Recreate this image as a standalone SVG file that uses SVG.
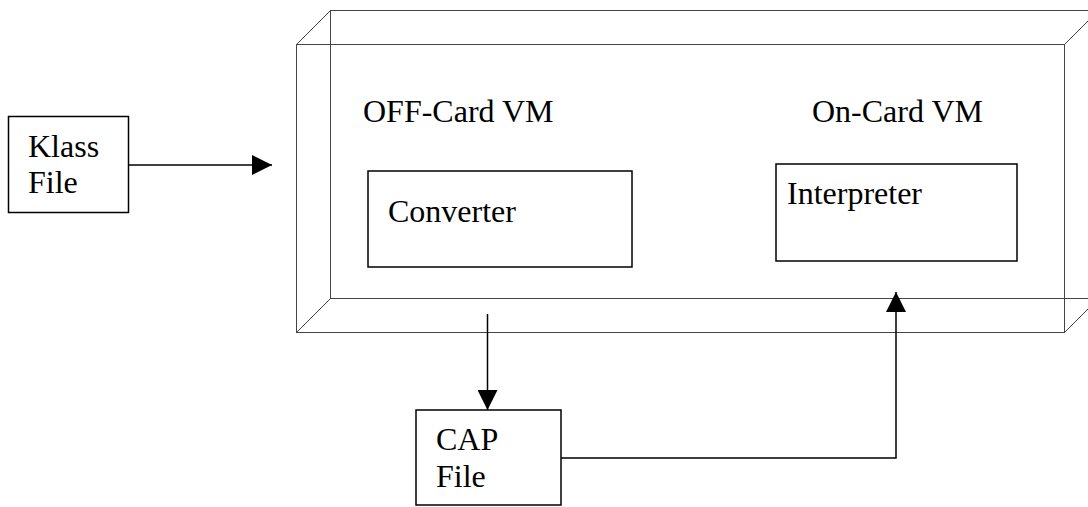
<svg xmlns="http://www.w3.org/2000/svg" width="1088" height="507" viewBox="0 0 1088 507">
  <style>
    .wire { fill: none; stroke: #444444; stroke-width: 1; }
    .box { fill: #ffffff; stroke: #000000; stroke-width: 1.5; }
    .conn { fill: none; stroke: #000000; stroke-width: 1.5; }
    .lbl { font-family: "Liberation Serif", "Times New Roman", serif; font-size: 32px; fill: #000000; }
  </style>
  <defs>
    <marker id="arrow" markerUnits="userSpaceOnUse" markerWidth="20" markerHeight="20" refX="20" refY="10" orient="auto" viewBox="0 0 20 20">
      <path d="M0,0 L20,10 L0,20 Z" fill="#000000"/>
    </marker>
  </defs>
  <rect width="1088" height="507" fill="#ffffff"/>

  <g id="vm-container">
    <rect class="wire" x="330.5" y="10.5" width="768" height="288"/>
    <rect class="wire" x="296.5" y="44.5" width="768" height="288"/>
    <line class="wire" x1="296.5" y1="44.5" x2="330.5" y2="10.5"/>
    <line class="wire" x1="1064.5" y1="44.5" x2="1098.5" y2="10.5"/>
    <line class="wire" x1="296.5" y1="332.5" x2="330.5" y2="298.5"/>
    <line class="wire" x1="1064.5" y1="332.5" x2="1098.5" y2="298.5"/>
    <text class="lbl" x="363" y="122">OFF-Card VM</text>
    <text class="lbl" x="812" y="122">On-Card VM</text>
  </g>

  <g id="klass-file">
    <rect class="box" x="8.5" y="116.5" width="120" height="96"/>
    <text class="lbl" x="28" y="157">Klass</text>
    <text class="lbl" x="28" y="193">File</text>
  </g>

  <g id="converter">
    <rect class="box" x="368" y="171" width="264" height="96"/>
    <text class="lbl" x="388" y="222">Converter</text>
  </g>

  <g id="interpreter">
    <rect class="box" x="776" y="164" width="241" height="97"/>
    <text class="lbl" x="787" y="204">Interpreter</text>
  </g>

  <g id="cap-file">
    <rect class="box" x="416" y="410" width="145" height="95"/>
    <text class="lbl" x="436" y="450">CAP</text>
    <text class="lbl" x="436" y="487">File</text>
  </g>

  <g id="connectors">
    <line class="conn" x1="128.5" y1="165" x2="272" y2="165" marker-end="url(#arrow)"/>
    <line class="conn" x1="487.5" y1="314" x2="487.5" y2="410" marker-end="url(#arrow)"/>
    <polyline class="conn" points="561,458 896,458 896,292" marker-end="url(#arrow)"/>
  </g>
</svg>
